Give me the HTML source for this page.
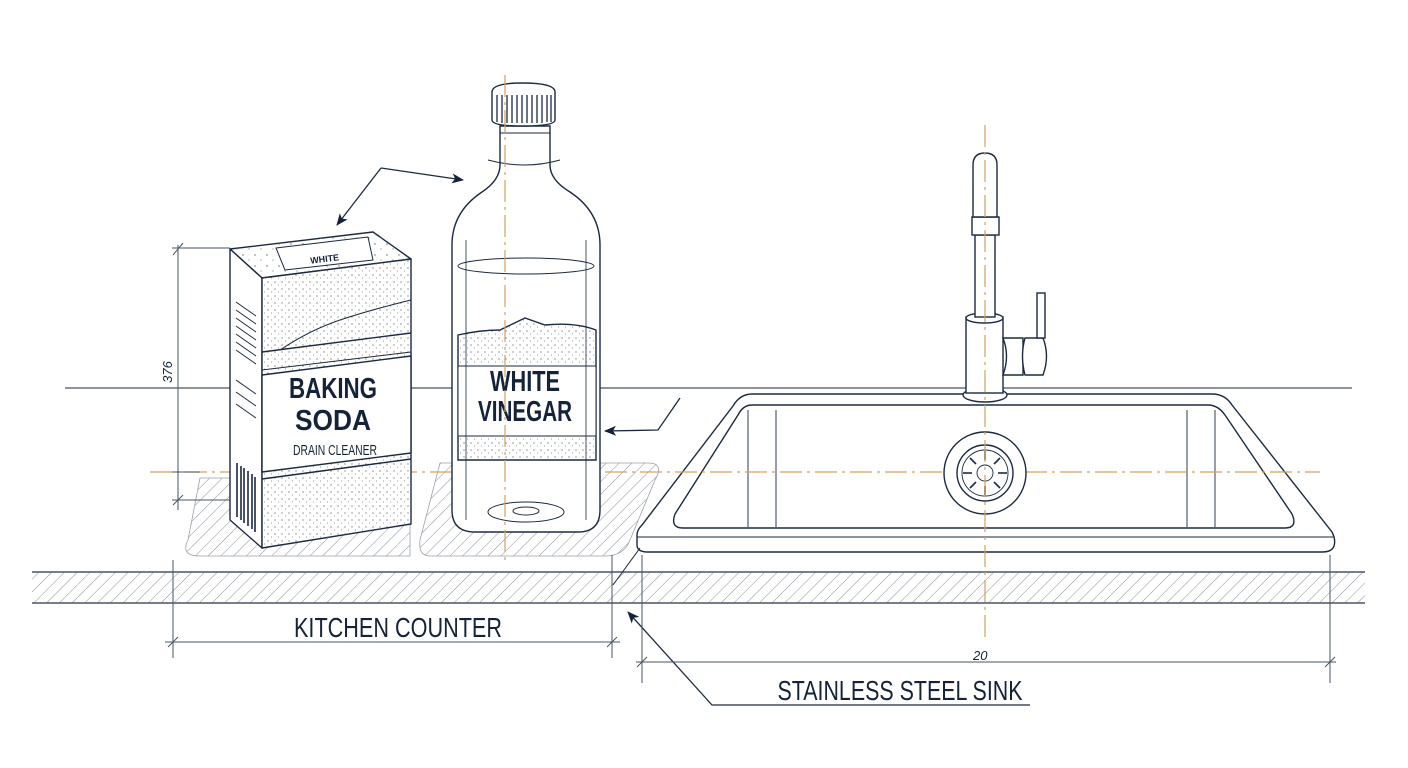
<!DOCTYPE html>
<html><head><meta charset="utf-8"><style>
html,body{margin:0;padding:0;background:#fff;}
svg{display:block;}
.t{font-family:"Liberation Sans Narrow","Liberation Sans",sans-serif;fill:#14233a;}
</style></head><body>
<svg width="1408" height="768" viewBox="0 0 1408 768" xmlns="http://www.w3.org/2000/svg">
<defs>
<pattern id="h" width="9" height="9" patternUnits="userSpaceOnUse" patternTransform="rotate(45)">
<line x1="0" y1="0" x2="0" y2="9" stroke="#8a929c" stroke-width="1"/></pattern>
<pattern id="dots" width="7" height="7" patternUnits="userSpaceOnUse">
<circle cx="2" cy="2" r="0.6" fill="#555"/><circle cx="5.5" cy="5" r="0.5" fill="#777"/></pattern>
<pattern id="dots2" width="12" height="11" patternUnits="userSpaceOnUse">
<circle cx="3" cy="2" r="0.7" fill="#666"/><circle cx="9" cy="7" r="0.6" fill="#888"/></pattern>
<marker id="ar" markerWidth="12" markerHeight="10" refX="11" refY="5" orient="auto" markerUnits="userSpaceOnUse">
<path d="M0,0 L12,5 L0,10 L3,5 z" fill="#14233a"/></marker>
</defs>
<rect width="1408" height="768" fill="#fff"/>

<line x1="65" y1="388" x2="1352" y2="388" stroke="#4a5566" stroke-width="1.2"/>

<path d="M200,478 L410,478 L410,556 L200,556 Q180,556 188,540 Z" fill="url(#h)" stroke="#9aa1aa" stroke-width="0.8"/>
<path d="M440,463 L648,463 Q665,463 655,480 L630,540 Q624,556 605,556 L430,556 Q418,556 420,540 Z" fill="url(#h)" stroke="#9aa1aa" stroke-width="0.8"/>

<rect x="32" y="572" width="1333" height="31" fill="url(#h)"/>
<line x1="32" y1="572" x2="1365" y2="572" stroke="#4a5566" stroke-width="1.5"/>
<line x1="32" y1="603" x2="1365" y2="603" stroke="#4a5566" stroke-width="1.5"/>

<!-- sink -->
<g stroke="#1b2a40" stroke-width="1.4" fill="#fff">
<path d="M752,394 L1212,394 Q1225,394 1232,405 L1332,532 Q1336,540 1334,546 Q1332,552 1322,552 L648,552 Q637,552 637,545 L637,535 Q637,530 642,525 L733,406 Q740,394 752,394 Z"/>
<path d="M637,537 L1334,537" fill="none" stroke-width="1"/>
<path d="M752,405 L1208,405 Q1218,405 1225,415 L1292,514 Q1298,528 1285,528 L683,528 Q670,528 675,514 L738,415 Q743,405 752,405 Z"/>
<line x1="748" y1="410" x2="748" y2="527" stroke-width="0.9"/>
<line x1="776" y1="410" x2="776" y2="527" stroke-width="0.9"/>
<line x1="1187" y1="410" x2="1187" y2="527" stroke-width="0.9"/>
<line x1="1215" y1="410" x2="1215" y2="527" stroke-width="0.9"/>
</g>

<g stroke="#d4a060" stroke-width="1.2" stroke-dasharray="22,5,3,5" fill="none">
<line x1="150" y1="472" x2="1320" y2="472"/>
</g>

<g stroke="#1b2a40" stroke-width="1.4" fill="#fff">
<circle cx="985" cy="473" r="41"/>
<circle cx="985" cy="473" r="28"/>
<circle cx="985" cy="473" r="23" stroke-width="0.9"/>
<circle cx="985" cy="473" r="8" stroke-width="0.9"/>
</g>
<g stroke="#1b2a40" stroke-width="1.6">
<line x1="985" y1="451" x2="985" y2="460"/><line x1="985" y1="486" x2="985" y2="495"/><line x1="963" y1="473" x2="972" y2="473"/><line x1="998" y1="473" x2="1007" y2="473"/>
<line x1="970" y1="458" x2="976" y2="464"/><line x1="994" y1="482" x2="1000" y2="488"/><line x1="1000" y1="458" x2="994" y2="464"/><line x1="976" y1="482" x2="970" y2="488"/>
</g>

<!-- baking soda box -->
<g stroke="#1b2a40" stroke-width="1.4" stroke-linejoin="round">
<path d="M230,249 L373,232 L411,259 L262,278 Z" fill="#fff"/>
<path d="M230,249 L262,278 L262,548 L230,520 Z" fill="#fff"/>
<path d="M262,278 L411,259 L411,524 L262,548 Z" fill="#fff"/>
<path d="M262,278 L411,259 L411,524 L262,548 Z" fill="url(#dots)" stroke="none"/>
<path d="M230,249 L373,232 L411,259 L262,278 Z" fill="url(#dots2)" stroke="none"/>
<path d="M276,248 L368,237 L373,260 L285,270 Z" fill="#fff" stroke-width="1"/>
<path d="M262,375 L411,356 L411,453 L262,472 Z" fill="#fff"/>
<line x1="262" y1="352" x2="411" y2="333"/>
<line x1="262" y1="479" x2="411" y2="459"/>
<path d="M280,350 Q310,330 340,320 Q370,310 411,300" fill="none" stroke-width="1"/>
<path d="M262,370 L411,352" stroke-width="1"/>
</g>
<g stroke="#1b2a40" stroke-width="1">
<line x1="236" y1="302" x2="256" y2="316"/><line x1="236" y1="310" x2="256" y2="324"/><line x1="236" y1="318" x2="256" y2="332"/><line x1="236" y1="326" x2="256" y2="340"/><line x1="236" y1="334" x2="256" y2="348"/><line x1="236" y1="342" x2="256" y2="356"/><line x1="236" y1="350" x2="256" y2="364"/><line x1="236" y1="380" x2="256" y2="394"/><line x1="236" y1="392" x2="256" y2="406"/><line x1="236" y1="404" x2="256" y2="418"/>
</g>
<g stroke="#1b2a40" stroke-width="1.6">
<line x1="237" y1="463" x2="237" y2="517"/><line x1="241" y1="466" x2="241" y2="520"/><line x1="244" y1="468" x2="244" y2="523"/><line x1="248" y1="471" x2="248" y2="526"/><line x1="252" y1="474" x2="252" y2="529"/><line x1="255" y1="477" x2="255" y2="532"/>
</g>
<text class="t" x="325" y="262" font-size="9" font-weight="bold" transform="rotate(-7 325 262)" text-anchor="middle">WHITE</text>
<text class="t" x="333" y="398" font-size="29" font-weight="bold" text-anchor="middle" textLength="88" lengthAdjust="spacingAndGlyphs">BAKING</text>
<text class="t" x="333" y="430" font-size="29" font-weight="bold" text-anchor="middle" textLength="76" lengthAdjust="spacingAndGlyphs">SODA</text>
<text class="t" x="335" y="455" font-size="15" text-anchor="middle" textLength="84" lengthAdjust="spacingAndGlyphs">DRAIN CLEANER</text>

<!-- bottle -->
<g stroke="#1b2a40" stroke-width="1.4" fill="#fff">
<path d="M500,126 L500,165 Q500,180 482,192 Q452,212 452,245 L452,510 Q452,532 475,532 L578,532 Q600,532 600,510 L600,245 Q600,212 570,192 Q550,180 550,165 L550,126 Z"/>
<path d="M492,92 Q492,83 522,83 Q555,83 555,92 L555,120 Q555,126 522,126 Q492,126 492,120 Z" fill="#fff"/>
<path d="M458,335 Q480,330 500,330 L525,318 L545,325 Q575,322 596,330 L596,460 L458,460 Z" fill="url(#dots)"/>
<rect x="458" y="366" width="138" height="70" fill="#fff" stroke-width="1"/>
<ellipse cx="526" cy="266" rx="68" ry="8" fill="none" stroke-width="1"/>
<ellipse cx="526" cy="512" rx="38" ry="10" fill="none" stroke-width="1"/>
<ellipse cx="526" cy="511" rx="13" ry="4" fill="none" stroke-width="1"/>
<line x1="466" y1="240" x2="466" y2="520" stroke-width="0.8"/>
<line x1="586" y1="240" x2="586" y2="520" stroke-width="0.8"/>
<line x1="500" y1="133" x2="550" y2="133" stroke-width="1"/>
<path d="M488,160 Q525,170 560,160" fill="none" stroke-width="1"/>
</g>
<g stroke="#1b2a40" stroke-width="1.3">
<line x1="497" y1="95" x2="497" y2="122"/><line x1="502" y1="95" x2="502" y2="123"/><line x1="507" y1="95" x2="507" y2="123"/><line x1="512" y1="95" x2="512" y2="123"/><line x1="517" y1="95" x2="517" y2="123"/><line x1="522" y1="95" x2="522" y2="123"/><line x1="527" y1="95" x2="527" y2="123"/><line x1="532" y1="95" x2="532" y2="123"/><line x1="537" y1="95" x2="537" y2="123"/><line x1="542" y1="95" x2="542" y2="123"/><line x1="547" y1="95" x2="547" y2="122"/><line x1="551" y1="95" x2="551" y2="122"/>
</g>
<text class="t" x="525" y="391" font-size="29" font-weight="bold" text-anchor="middle" textLength="70" lengthAdjust="spacingAndGlyphs">WHITE</text>
<text class="t" x="525" y="421" font-size="29" font-weight="bold" text-anchor="middle" textLength="94" lengthAdjust="spacingAndGlyphs">VINEGAR</text>

<!-- faucet -->
<g stroke="#1b2a40" stroke-width="1.4" fill="#fff">
<ellipse cx="985" cy="395" rx="22" ry="7"/>
<rect x="966" y="317" width="37" height="76"/>
<ellipse cx="984.5" cy="318" rx="18.5" ry="5"/>
<rect x="975" y="235" width="20" height="82"/>
<rect x="972" y="217" width="27" height="18"/>
<path d="M973,217 L973,165 Q973,153 985,153 Q997,153 997,165 L997,217 Z"/>
<path d="M1003,338 L1023,338 L1023,375 L1003,375 Q1010,356 1003,338 Z"/>
<path d="M1025,338 L1043,338 Q1050,356 1043,375 L1025,375 Q1020,356 1025,338 Z"/>
<rect x="1037" y="293" width="8" height="45"/>
</g>

<g stroke="#d4a060" stroke-width="1.2" stroke-dasharray="22,5,3,5" fill="none">
<line x1="505" y1="75" x2="505" y2="560"/>
<line x1="985" y1="125" x2="985" y2="640"/>
</g>

<g stroke="#1b2a40" stroke-width="1.3" fill="none">
<polyline points="381,168 463,180" marker-end="url(#ar)"/>
<polyline points="381,168 337,225" marker-end="url(#ar)"/>
<polyline points="680,398 658,430 605,431" marker-end="url(#ar)"/>
<polyline points="1030,705 712,705 628,612" marker-end="url(#ar)"/>
<line x1="613" y1="585" x2="640" y2="548" stroke-width="1"/>
</g>

<g stroke="#4a5566" stroke-width="1" fill="none">
<line x1="178" y1="245" x2="178" y2="510"/>
<line x1="172" y1="248" x2="230" y2="248"/>
<line x1="172" y1="500" x2="230" y2="500"/>
<line x1="172" y1="472" x2="200" y2="472"/>
<line x1="173" y1="255" x2="183" y2="243"/>
<line x1="173" y1="505" x2="183" y2="495"/>
<line x1="173" y1="560" x2="173" y2="658"/>
<line x1="612" y1="555" x2="612" y2="658"/>
<line x1="165" y1="642" x2="620" y2="642"/>
<line x1="168" y1="647" x2="178" y2="637"/>
<line x1="607" y1="647" x2="617" y2="637"/>
<line x1="642" y1="555" x2="642" y2="683"/>
<line x1="1330" y1="555" x2="1330" y2="683"/>
<line x1="636" y1="662" x2="1336" y2="662"/>
<line x1="637" y1="667" x2="647" y2="657"/>
<line x1="1325" y1="667" x2="1335" y2="657"/>
</g>
<text class="t" x="172" y="372" font-size="13" font-style="italic" fill="#333" transform="rotate(-90 172 372)" text-anchor="middle">376</text>
<text class="t" x="398" y="637" font-size="28" text-anchor="middle" textLength="208" lengthAdjust="spacingAndGlyphs">KITCHEN COUNTER</text>
<text class="t" x="973" y="660" font-size="13" font-style="italic" fill="#333">20</text>
<text class="t" x="900" y="700" font-size="28" text-anchor="middle" textLength="245" lengthAdjust="spacingAndGlyphs">STAINLESS STEEL SINK</text>
</svg>
</body></html>
